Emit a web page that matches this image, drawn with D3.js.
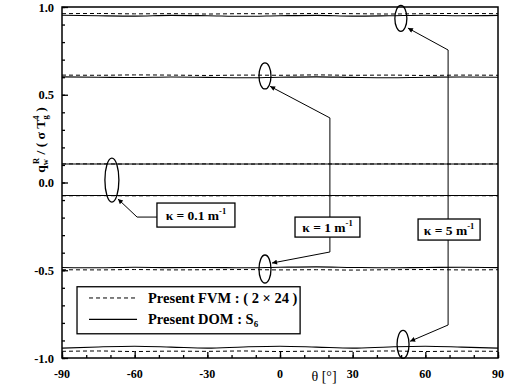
<!DOCTYPE html>
<html><head><meta charset="utf-8">
<script src="https://cdn.jsdelivr.net/npm/d3@7"></script>
<style>
html,body{margin:0;padding:0;background:#fff;}
svg{display:block;}
text{font-family:"Liberation Serif","DejaVu Serif",serif;font-weight:bold;fill:#000;}
</style></head><body>
<script>
// ---- data ----
const theta = [-90, -75, -60, -45, -30, -15, 0, 15, 30, 45, 60, 75, 90];
const fvm_k5_top = [0.962, 0.963, 0.961, 0.962, 0.960, 0.962, 0.961, 0.963, 0.962, 0.960, 0.962, 0.963, 0.962];
const dom_k5_top = [0.953, 0.950, 0.948, 0.952, 0.950, 0.947, 0.950, 0.952, 0.948, 0.950, 0.953, 0.950, 0.952];
const fvm_k1_top = [0.612, 0.611, 0.613, 0.612, 0.610, 0.612, 0.611, 0.613, 0.611, 0.612, 0.610, 0.612, 0.611];
const dom_k1_top = [0.602, 0.600, 0.598, 0.601, 0.599, 0.597, 0.600, 0.602, 0.599, 0.597, 0.600, 0.601, 0.600];
const fvm_k01_top = [0.106, 0.106, 0.105, 0.106, 0.106, 0.105, 0.106, 0.106, 0.105, 0.106, 0.106, 0.105, 0.106];
const dom_k01_top = [0.105, 0.105, 0.105, 0.105, 0.105, 0.105, 0.105, 0.105, 0.105, 0.105, 0.105, 0.105, 0.105];
const fvm_k01_bot = [-0.076, -0.075, -0.076, -0.075, -0.076, -0.075, -0.076, -0.075, -0.076, -0.075, -0.076, -0.075, -0.076];
const dom_k01_bot = [-0.074, -0.074, -0.074, -0.074, -0.074, -0.074, -0.074, -0.074, -0.074, -0.074, -0.074, -0.074, -0.074];
const fvm_k1_bot = [-0.497, -0.498, -0.496, -0.498, -0.497, -0.496, -0.498, -0.497, -0.499, -0.497, -0.496, -0.498, -0.497];
const dom_k1_bot = [-0.484, -0.486, -0.483, -0.485, -0.484, -0.486, -0.483, -0.481, -0.484, -0.486, -0.484, -0.483, -0.485];
const fvm_k5_bot = [-0.962, -0.960, -0.963, -0.961, -0.962, -0.960, -0.963, -0.961, -0.962, -0.960, -0.963, -0.961, -0.962];
const dom_k5_bot = [-0.944, -0.937, -0.933, -0.938, -0.944, -0.937, -0.933, -0.938, -0.944, -0.937, -0.933, -0.938, -0.944];

const xTicks = [-90, -60, -30, 0, 30, 60, 90];
const yTicks = [-1.0, -0.5, 0.0, 0.5, 1.0];
const legendLabels = ["Present FVM : ( 2 \u00d7 24 )", "Present DOM : S"];

// ---- layout ----
const W = 511, H = 391;
const L = 62, R = 498, T = 7, B = 358;
const x = d3.scaleLinear().domain([-90, 90]).range([L, R]);
const y = d3.scaleLinear().domain([-1, 1]).range([B, T]);

const svg = d3.select("body").append("svg").attr("width", W).attr("height", H);

svg.append("defs").append("marker")
  .attr("id", "arr").attr("viewBox", "0 0 10 10").attr("refX", 10).attr("refY", 5)
  .attr("markerWidth", 7).attr("markerHeight", 5).attr("markerUnits", "userSpaceOnUse")
  .attr("orient", "auto")
  .append("path").attr("d", "M0,0L10,5L0,10z").attr("fill", "#000");

// frame
svg.append("rect").attr("x", L).attr("y", T).attr("width", R - L).attr("height", B - T)
  .attr("fill", "none").attr("stroke", "#000").attr("stroke-width", 1.5);

// axes (inward ticks)
const gy = svg.append("g").attr("transform", `translate(${L},0)`);
gy.call(d3.axisRight(y).tickValues(d3.range(-10, 11).map(d => d / 10)).tickSize(3).tickFormat(""));
gy.call(g => g.select(".domain").remove());
const gy2 = svg.append("g").attr("transform", `translate(${L},0)`);
gy2.call(d3.axisRight(y).tickValues(yTicks).tickSize(6).tickFormat(""));
gy2.call(g => g.select(".domain").remove());

const gx = svg.append("g").attr("transform", `translate(0,${B})`);
gx.call(d3.axisTop(x).tickValues(d3.range(-90, 91, 10)).tickSize(3).tickFormat(""));
gx.call(g => g.select(".domain").remove());
const gx2 = svg.append("g").attr("transform", `translate(0,${B})`);
gx2.call(d3.axisTop(x).tickValues(xTicks).tickSize(6).tickFormat(""));
gx2.call(g => g.select(".domain").remove());
svg.selectAll(".tick line").attr("stroke-width", 1.3).attr("stroke", "#000");

// tick labels
svg.append("g").selectAll("text").data(yTicks).join("text")
  .attr("x", L - 8).attr("y", d => y(d) + 4.5).attr("text-anchor", "end")
  .attr("font-size", 12.5).text(d => d.toFixed(1));
svg.append("g").selectAll("text").data(xTicks).join("text")
  .attr("x", d => x(d)).attr("y", 378).attr("text-anchor", "middle")
  .attr("font-size", 12).text(d => d);

// axis titles
svg.append("text").attr("x", 324).attr("y", 381).attr("text-anchor", "middle")
  .attr("font-size", 14).style("font-weight", "normal").style("fill", "#000")
  .text("\u03b8 [\u00b0]");

const yt = svg.append("text").attr("transform", "translate(45,140) rotate(-90)")
  .attr("text-anchor", "middle").attr("font-size", 13.5);
yt.append("tspan").text("q");
yt.append("tspan").attr("font-size", 8.5).attr("dy", 3).text("w");
yt.append("tspan").attr("font-size", 8.5).attr("dx", -5).attr("dy", -9).text("R");
yt.append("tspan").attr("dy", 6).text(" / ( \u03c3 T");
yt.append("tspan").attr("font-size", 8.5).attr("dy", -6).text("4");
yt.append("tspan").attr("font-size", 8.5).attr("dx", -4).attr("dy", 9).text("g");
yt.append("tspan").attr("dy", -3).text(" )");

// series lines
const line = d3.line().x((d, i) => x(theta[i])).y(d => y(d)).curve(d3.curveMonotoneX);
const solid = [dom_k5_top, dom_k1_top, dom_k01_top, dom_k01_bot, dom_k1_bot, dom_k5_bot];
const dashed = [fvm_k5_top, fvm_k1_top, fvm_k01_top, fvm_k01_bot, fvm_k1_bot, fvm_k5_bot];
svg.append("g").selectAll("path").data(solid).join("path")
  .attr("d", line).attr("fill", "none").attr("stroke", "#000").attr("stroke-width", 1.1);
svg.append("g").selectAll("path").data(dashed).join("path")
  .attr("d", line).attr("fill", "none").attr("stroke", "#000").attr("stroke-width", 1)
  .attr("stroke-dasharray", "4,3");

// annotations (in data units)
const ellipses = [
  {t: -69.4, v: 0.014, rx: 7, ry: 22},
  {t: -6.2, v: 0.607, rx: 6, ry: 13},
  {t: -6.2, v: -0.493, rx: 6, ry: 14},
  {t: 49.9, v: 0.935, rx: 6, ry: 13},
  {t: 50.8, v: -0.922, rx: 6, ry: 14}
];
svg.append("g").selectAll("ellipse").data(ellipses).join("ellipse")
  .attr("cx", d => x(d.t)).attr("cy", d => y(d.v)).attr("rx", d => d.rx).attr("ry", d => d.ry)
  .attr("fill", "none").attr("stroke", "#000").attr("stroke-width", 1.3);

const leaders = [
  [[-50.8, -0.197], [-59.0, -0.197], [-66.9, -0.094]],
  [[20.6, -0.197], [20.6, 0.368], [-4.1, 0.548]],
  [[20.6, -0.311], [20.6, -0.396], [-3.3, -0.459]],
  [[69.4, -0.208], [69.4, 0.755], [52.8, 0.880]],
  [[69.4, -0.328], [69.4, -0.812], [53.7, -0.905]]
];
const lg = d3.line().x(d => x(d[0])).y(d => y(d[1]));
svg.append("g").selectAll("path").data(leaders).join("path")
  .attr("d", lg).attr("fill", "none").attr("stroke", "#000").attr("stroke-width", 1)
  .attr("marker-end", "url(#arr)");

const boxes = [
  {t0: -50.8, t1: -18.6, v0: -0.117, v1: -0.254, k: "0.1"},
  {t0: 6.2, t1: 33.0, v0: -0.197, v1: -0.311, k: "1"},
  {t0: 57.0, t1: 82.6, v0: -0.208, v1: -0.328, k: "5"}
];
const bg = svg.append("g").selectAll("g").data(boxes).join("g");
bg.append("rect").attr("x", d => x(d.t0)).attr("y", d => y(d.v0))
  .attr("width", d => x(d.t1) - x(d.t0)).attr("height", d => y(d.v1) - y(d.v0))
  .attr("fill", "#fff").attr("stroke", "#000").attr("stroke-width", 1.3);
const bt = bg.append("text").attr("x", d => (x(d.t0) + x(d.t1)) / 2)
  .attr("y", d => (y(d.v0) + y(d.v1)) / 2 + 5).attr("text-anchor", "middle").attr("font-size", 13.5);
bt.append("tspan").text(d => "\u03ba = " + d.k + " m");
bt.append("tspan").attr("font-size", 8.5).attr("dy", -6).text("-1");

// legend
const lgx0 = x(-83.8), lgx1 = x(8.3), lgy0 = y(-0.594), lgy1 = y(-0.862);
svg.append("rect").attr("x", lgx0).attr("y", lgy0).attr("width", lgx1 - lgx0).attr("height", lgy1 - lgy0)
  .attr("fill", "#fff").attr("stroke", "#000").attr("stroke-width", 1.3);
const rows = [y(-0.658), y(-0.78)];
svg.append("line").attr("x1", lgx0 + 12).attr("x2", lgx0 + 60).attr("y1", rows[0]).attr("y2", rows[0])
  .attr("stroke", "#000").attr("stroke-dasharray", "4,3");
svg.append("line").attr("x1", lgx0 + 12).attr("x2", lgx0 + 60).attr("y1", rows[1]).attr("y2", rows[1])
  .attr("stroke", "#000").attr("stroke-width", 1.1);
svg.append("text").attr("x", lgx0 + 71).attr("y", rows[0] + 5).attr("font-size", 14.5).text(legendLabels[0]);
const l2 = svg.append("text").attr("x", lgx0 + 71).attr("y", rows[1] + 5).attr("font-size", 14.5);
l2.append("tspan").text(legendLabels[1]);
l2.append("tspan").attr("font-size", 9).attr("dy", 3).text("6");
</script>
</body></html>
